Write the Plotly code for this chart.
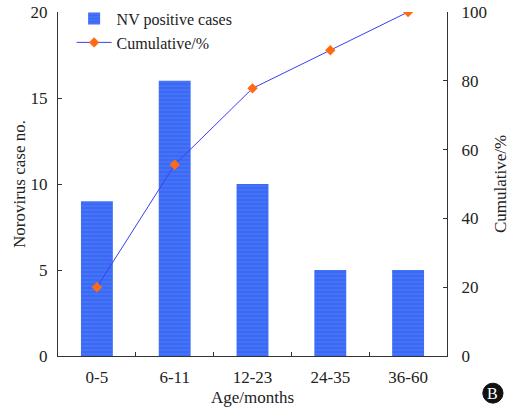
import plotly.graph_objects as go

categories = ["0-5", "6-11", "12-23", "24-35", "36-60"]
cases = [9, 16, 10, 5, 5]
cumulative = [20.0, 55.6, 77.8, 88.9, 100.0]

font_family = "Liberation Serif"

fig = go.Figure()
fig.add_trace(go.Bar(
    x=categories, y=cases, name="NV positive cases", width=0.41,
    marker=dict(color="#3a6af5", line=dict(width=0),
                pattern=dict(shape="-", fgcolor="#8aa8fa", bgcolor="#3a6af5",
                             size=4, solidity=0.15)),
    yaxis="y"))
fig.add_trace(go.Scatter(
    x=categories, y=cumulative, name="Cumulative/%", mode="lines+markers",
    line=dict(color="#3a3ff0", width=1),
    marker=dict(symbol="diamond", size=8, color="#ff6a13"),
    yaxis="y2"))

fig.update_layout(
    width=510, height=409,
    margin=dict(l=58, r=63, t=12, b=53, autoexpand=False),
    paper_bgcolor="white", plot_bgcolor="white",
    font=dict(family=font_family, size=16, color="#222"),
    bargap=0.59,
    showlegend=True,
    legend=dict(x=0.035, y=1.03, xanchor="left", yanchor="top",
                bgcolor="rgba(0,0,0,0)", font=dict(size=16),
                itemwidth=35, tracegroupgap=2),
    xaxis=dict(type="category", showline=True, linecolor="#333", linewidth=1,
               mirror=False, ticks="inside", tickson="boundaries", ticklen=4,
               tickcolor="#333", tickfont=dict(size=17), automargin=False,
               ticklabelstandoff=6,
               title=dict(text="Age/months", standoff=4, font=dict(size=17)),
               showgrid=False),
    yaxis=dict(range=[0, 20], dtick=5, showline=True, linecolor="#333",
               linewidth=1, ticks="inside", ticklen=4, tickcolor="#333",
               tickfont=dict(size=17), automargin=False, ticklabelstandoff=6,
               showgrid=False, zeroline=False,
               title=dict(text="Norovirus case no.", standoff=0,
                          font=dict(size=17))),
    yaxis2=dict(range=[0, 100], dtick=20, overlaying="y", side="right",
                showline=True, linecolor="#333", linewidth=1, ticks="inside",
                ticklen=4, tickcolor="#333", showgrid=False, zeroline=False,
                tickfont=dict(size=17), automargin=False, ticklabelstandoff=10,
                title=dict(text="Cumulative/%", standoff=12,
                           font=dict(size=17))),
)

fig.add_shape(type="circle", xref="paper", yref="paper",
              x0=1.092, x1=1.144, y0=-0.137, y1=-0.079,
              fillcolor="#111", line=dict(color="#111", width=1))
fig.add_annotation(text="B", xref="paper", yref="paper", x=1.118, y=-0.108,
                   xanchor="center", yanchor="middle",
                   showarrow=False, font=dict(color="white", size=16,
                                              family=font_family))

fig.write_html("out.html", config={"displayModeBar": False},
               post_script="document.body.style.margin='0';")
